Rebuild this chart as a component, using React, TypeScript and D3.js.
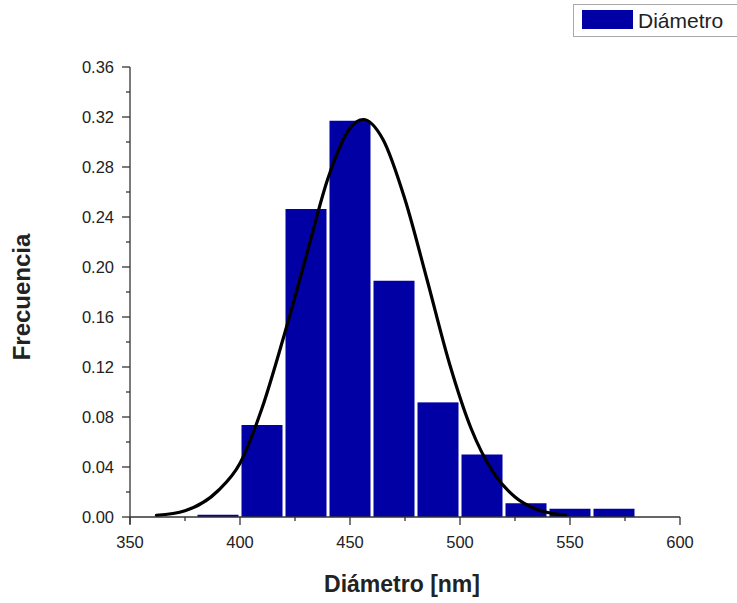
import React from 'react'
import * as d3 from 'd3'

// histogram bins (start of each 20 nm bin) and relative frequencies
const binStarts = [380, 400, 420, 440, 460, 480, 500, 520, 540, 560]
const binWidth = 20
const frequencies = [0.0018, 0.0736, 0.2464, 0.317, 0.189, 0.0917, 0.050, 0.011, 0.0066, 0.0066]

// fitted curve, points
const curveX = [362, 375, 390, 400, 410, 420, 430, 440, 450, 456, 465, 475, 485, 495, 505, 515, 525, 535, 548]
const curveY = [0.0013, 0.005, 0.021, 0.043, 0.087, 0.145, 0.208, 0.271, 0.311, 0.318, 0.302, 0.254, 0.19, 0.124, 0.071, 0.036, 0.016, 0.006, 0.0015]

const xTicks = [350, 400, 450, 500, 550, 600]
const xMinorTicks = [375, 425, 475, 525, 575]
const yTicks = [0, 0.04, 0.08, 0.12, 0.16, 0.2, 0.24, 0.28, 0.32, 0.36]
const yMinorTicks = [0.02, 0.06, 0.1, 0.14, 0.18, 0.22, 0.26, 0.3, 0.34]

const seriesName = 'Diámetro'
const xTitle = 'Diámetro [nm]'
const yTitle = 'Frecuencia'

const barColor = '#0000a5'
const font = 'Arial, "Liberation Sans", sans-serif'

export default function App() {
  const width = 737
  const height = 603

  const x = d3.scaleLinear().domain([350, 600]).range([130, 680])
  const y = d3.scaleLinear().domain([0, 0.36]).range([517, 67])

  const line = d3.line<number>()
    .x((d, i) => x(curveX[i]))
    .y(d => y(d))
    .curve(d3.curveMonotoneX)

  return (
    <div style={{position: 'absolute', left: 0, top: 0}}>
      <svg width={width} height={height} style={{display: 'block'}}>
        <rect width={width} height={height} fill="#fff" />

        {/* bars */}
        <g>
          {binStarts.map((b, i) => (
            <rect key={b}
              x={x(b) + 1.5}
              y={y(frequencies[i])}
              width={x(b + binWidth) - x(b) - 3}
              height={y(0) - y(frequencies[i])}
              fill={barColor} />
          ))}
        </g>

        {/* curve */}
        <path d={line(curveY) || ''} fill="none" stroke="#000" strokeWidth={3.2} strokeLinecap="round" />

        {/* y axis */}
        <g fontFamily={font} fontSize={16.5} fill="#222">
          <line x1={130} x2={130} y1={y(0.36)} y2={y(0) + 7} stroke="#333" strokeWidth={1.3} />
          {yTicks.map(t => (
            <g key={t}>
              <line x1={122} x2={130} y1={y(t)} y2={y(t)} stroke="#333" strokeWidth={1.3} />
              <text x={114} y={y(t)} dy="0.35em" textAnchor="end">{d3.format('.2f')(t)}</text>
            </g>
          ))}
          {yMinorTicks.map(t => (
            <line key={t} x1={126} x2={130} y1={y(t)} y2={y(t)} stroke="#333" strokeWidth={1.3} />
          ))}
        </g>

        {/* x axis */}
        <g fontFamily={font} fontSize={16.5} fill="#222">
          <line x1={130} x2={680} y1={517} y2={517} stroke="#333" strokeWidth={1.3} />
          {xTicks.map(t => (
            <g key={t}>
              <line x1={x(t)} x2={x(t)} y1={517} y2={525} stroke="#333" strokeWidth={1.3} />
              <text x={x(t)} y={548} textAnchor="middle">{t}</text>
            </g>
          ))}
          {xMinorTicks.map(t => (
            <line key={t} x1={x(t)} x2={x(t)} y1={517} y2={521} stroke="#333" strokeWidth={1.3} />
          ))}
        </g>

        {/* axis titles */}
        <text x={402} y={592} textAnchor="middle" fontFamily={font} fontWeight="bold" fontSize={23} fill="#222">{xTitle}</text>
        <text transform="translate(30,297) rotate(-90)" textAnchor="middle" fontFamily={font} fontWeight="bold" fontSize={24} fill="#222">{yTitle}</text>

        {/* legend */}
        <g>
          <rect x={573.5} y={4.5} width={170} height={32} fill="#fff" stroke="#aaa" />
          <rect x={582} y={10} width={51} height={19} fill={barColor} />
          <text x={638} y={28} fontFamily={font} fontSize={21} fill="#222">{seriesName}</text>
        </g>
      </svg>
    </div>
  )
}
